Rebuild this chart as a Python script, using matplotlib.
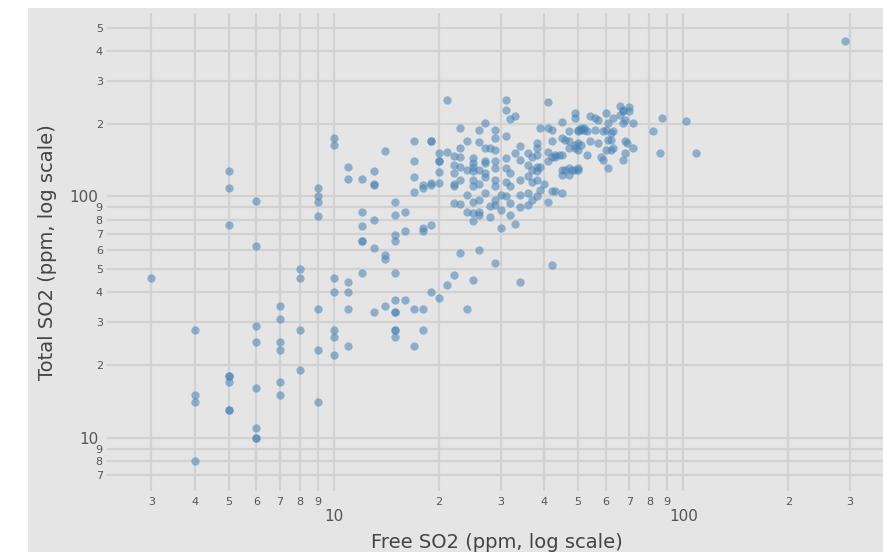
import matplotlib
matplotlib.use("Agg")
import matplotlib.pyplot as plt
from matplotlib.patches import Rectangle
from matplotlib.ticker import FixedLocator, FixedFormatter

# free vs total SO2, one line per free-SO2 value
free_so2 = [
    3,
    4, 4, 4, 4,
    5, 5, 5, 5, 5, 5, 5, 5,
    6, 6, 6, 6, 6, 6, 6, 6,
    7, 7, 7, 7, 7, 7,
    8, 8, 8, 8,
    9, 9, 9, 9, 9, 9, 9,
    10, 10, 10, 10, 10, 10, 10,
    11, 11, 11, 11, 11, 11,
    12, 12, 12, 12, 12, 12,
    13, 13, 13, 13, 13, 13,
    14, 14, 14, 14,
    15, 15, 15, 15, 15, 15, 15, 15, 15, 15, 15,
    16, 16, 16,
    17, 17, 17, 17, 17, 17,
    18, 18, 18, 18, 18, 18,
    19, 19, 19, 19, 19, 19,
    20, 20, 20, 20, 20, 20,
    21, 21, 21,
    22, 22, 22, 22, 22, 22, 22,
    23, 23, 23, 23, 23, 23, 23,
    24, 24, 24, 24, 24,
    25, 25, 25, 25, 25, 25, 25, 25, 25, 25,
    26, 26, 26, 26, 26, 26, 26, 26,
    27, 27, 27, 27, 27, 27, 27,
    28, 28, 28,
    29, 29, 29, 29, 29, 29, 29, 29, 29, 29,
    30, 30, 30,
    31, 31, 31, 31, 31, 31, 31,
    32, 32, 32, 32, 32,
    33, 33, 33,
    34, 34, 34, 34, 34, 34,
    36, 36, 36, 36, 36,
    37, 37, 37, 37,
    38, 38, 38, 38, 38, 38, 38,
    39, 39, 39,
    40,
    41, 41, 41, 41, 41,
    42, 42, 42, 42, 42,
    43, 43, 43,
    44,
    45, 45, 45, 45, 45, 45,
    46, 46,
    47, 47, 47, 47, 47,
    48,
    49, 49, 49, 49, 49,
    50, 50, 50, 50, 50, 50,
    51, 51, 51,
    52, 52,
    53, 53,
    54, 54,
    56, 56,
    57, 57,
    58,
    59, 59,
    60, 60, 60,
    61, 61, 61,
    62, 62, 62,
    63, 63, 63,
    66, 66,
    67, 67, 67, 67,
    68, 68, 68,
    69,
    70, 70,
    72, 72,
    82, 86, 87, 102, 109, 291,
]

total_so2 = [
    46,
    28, 15, 14, 8,
    128, 108, 76, 18, 18, 17, 13, 13,
    96, 62, 29, 25, 16, 11, 10, 10,
    35, 31, 25, 23, 17, 15,
    50, 46, 28, 19,
    108, 100, 95, 83, 34, 23, 14,
    175, 163, 46, 40, 28, 26, 22,
    133, 118, 44, 40, 34, 24,
    118, 86, 75, 65, 65, 48,
    127, 112, 111, 80, 61, 33,
    154, 57, 55, 35,
    95, 84, 69, 65, 48, 37, 33, 33, 28, 28, 26,
    86, 72, 37,
    170, 140, 120, 104, 34, 24,
    111, 108, 74, 72, 34, 28,
    170, 170, 114, 111, 76, 40,
    152, 140, 140, 126, 114, 38,
    250, 153, 43,
    147, 135, 125, 112, 110, 94, 47,
    192, 158, 146, 133, 117, 93, 58,
    169, 129, 101, 86, 34,
    144, 137, 133, 127, 117, 110, 95, 85, 79, 45,
    188, 168, 129, 112, 97, 86, 84, 60,
    202, 159, 140, 137, 125, 120, 103,
    158, 91, 82,
    188, 174, 156, 140, 131, 117, 110, 97, 92, 53,
    101, 88, 74,
    252, 228, 178, 144, 131, 115, 100,
    209, 125, 110, 94, 84,
    215, 151, 77,
    161, 142, 117, 101, 90, 44,
    151, 135, 121, 103, 92,
    146, 129, 115, 97,
    166, 158, 149, 133, 127, 117, 100,
    192, 133, 106,
    112,
    246, 192, 153, 140, 95,
    189, 169, 146, 105, 52,
    149, 146, 105,
    149,
    203, 175, 149, 129, 123, 103,
    172, 129,
    186, 169, 158, 131, 123,
    129,
    221, 211, 163, 158, 129,
    189, 186, 166, 156, 131, 129,
    192, 189, 164,
    192, 189,
    186, 149,
    215, 170,
    211, 189,
    207, 166,
    146,
    186, 142,
    221, 189, 156,
    202, 172, 131,
    184, 172, 156,
    211, 186, 158,
    237, 218,
    229, 225, 202, 142,
    208, 169, 152,
    166,
    235, 227,
    202, 158,
    186, 152, 211, 205, 151, 439,
]

assert len(free_so2) == len(total_so2)

x_major = [10, 100]
x_minor = [3, 4, 5, 6, 7, 8, 9, 20, 30, 40, 50, 60, 70, 80, 90, 200, 300]
x_minor_labels = ["3", "4", "5", "6", "7", "8", "9",
                  "2", "3", "4", "5", "6", "7", "8", "9", "2", "3"]
y_major = [10, 100]
y_minor = [7, 8, 9, 20, 30, 40, 50, 60, 70, 80, 90, 200, 300, 400, 500]
y_minor_labels = ["7", "8", "9", "2", "3", "4", "5", "6", "7", "8", "9",
                  "2", "3", "4", "5"]

W, H = 883, 554
BG = "#e5e5e5"
GRID = "#d2d2d2"
TXT = "#555555"

plt.rcParams["font.family"] = ["DejaVu Sans"]

fig = plt.figure(figsize=(W / 100, H / 100), dpi=100)
fig.patch.set_facecolor("white")
fig.add_artist(Rectangle((28 / W, 2 / H), 1 - 28 / W, 544 / H,
                         transform=fig.transFigure, facecolor=BG,
                         edgecolor="none", zorder=0))

ax = fig.add_axes([107 / W, 63 / H, 1 - 107 / W, 478 / H])
ax.set_facecolor(BG)
ax.set_xscale("log")
ax.set_yscale("log")
ax.set_xlim(2.24, 373)
ax.set_ylim(6.0, 576)

for s in ax.spines.values():
    s.set_visible(False)

ax.xaxis.set_major_locator(FixedLocator(x_major))
ax.xaxis.set_major_formatter(FixedFormatter([str(v) for v in x_major]))
ax.xaxis.set_minor_locator(FixedLocator(x_minor))
ax.xaxis.set_minor_formatter(FixedFormatter(x_minor_labels))
ax.yaxis.set_major_locator(FixedLocator(y_major))
ax.yaxis.set_major_formatter(FixedFormatter([str(v) for v in y_major]))
ax.yaxis.set_minor_locator(FixedLocator(y_minor))
ax.yaxis.set_minor_formatter(FixedFormatter(y_minor_labels))

ax.tick_params(axis="x", which="major", length=0, pad=13, labelsize=11, labelcolor=TXT)
ax.tick_params(axis="x", which="minor", length=0, pad=4, labelsize=8, labelcolor=TXT)
ax.tick_params(axis="y", which="major", length=0, pad=6, labelsize=11, labelcolor=TXT)
ax.tick_params(axis="y", which="minor", length=0, pad=3, labelsize=8, labelcolor=TXT)

ax.grid(True, which="both", color=GRID, linewidth=1.6)
ax.set_axisbelow(True)

ax.scatter(free_so2, total_so2, s=36, color="#4682b4", alpha=0.55,
           linewidths=0, zorder=3)

fig.text(497 / W, 1 - 543 / H, "Free SO2 (ppm, log scale)", ha="center",
         va="center", fontsize=14, color="#444444")
fig.text(48 / W, 1 - 252 / H, "Total SO2 (ppm, log scale)", ha="center",
         va="center", rotation=90, fontsize=14, color="#444444")

fig.savefig("out.png", dpi=100, facecolor=fig.get_facecolor())
